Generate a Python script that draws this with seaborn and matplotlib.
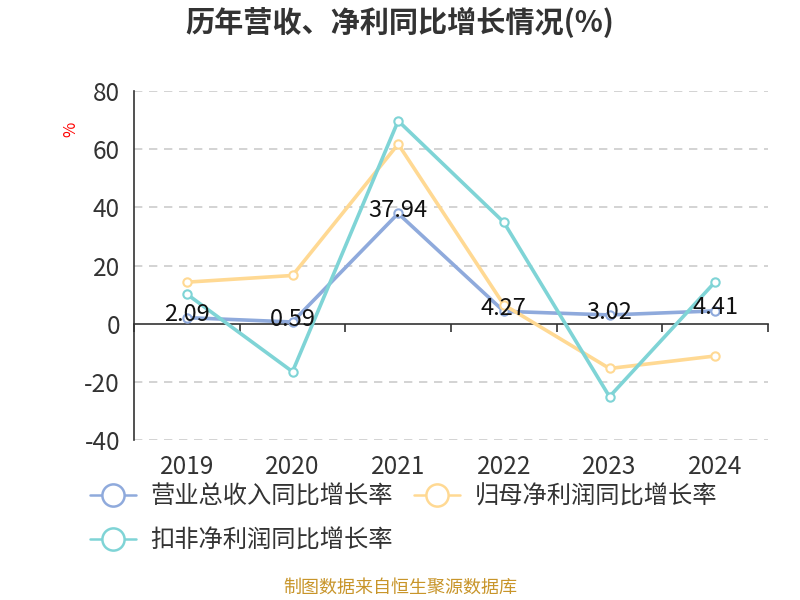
import matplotlib
matplotlib.use("Agg")
import pandas as pd
import seaborn as sns
import matplotlib.pyplot as plt
from matplotlib.lines import Line2D

# -------------------------
# Data
# -------------------------
years = ["2019", "2020", "2021", "2022", "2023", "2024"]
revenue_growth = [2.09, 0.59, 37.94, 4.27, 3.02, 4.41]
net_profit_growth = [14.3, 16.6, 61.8, 6.5, -15.4, -11.1]
deducted_profit_growth = [10.2, -16.5, 69.8, 34.9, -25.1, 14.4]

series_names = ["营业总收入同比增长率", "归母净利润同比增长率", "扣非净利润同比增长率"]
colors = ["#8FAADC", "#FFD993", "#7FD4D6"]

df = pd.DataFrame({
    "year": years * 3,
    "value": revenue_growth + net_profit_growth + deducted_profit_growth,
    "series": [series_names[0]] * 6 + [series_names[1]] * 6 + [series_names[2]] * 6,
})

sns.set_style("white")
plt.rcParams["font.family"] = ["Noto Sans CJK SC", "DejaVu Sans"]
plt.rcParams["axes.unicode_minus"] = False

fig = plt.figure(figsize=(8, 6), dpi=100)
ax = fig.add_axes([0.1675, 0.2667, 0.7925, 0.5813])

# -------------------------
# Lines
# -------------------------
for name, color in zip(series_names, colors):
    sub = df[df["series"] == name]
    sns.lineplot(
        data=sub, x="year", y="value", ax=ax, color=color, linewidth=2.6,
        marker="o", markersize=6, markerfacecolor="white",
        markeredgecolor=color, markeredgewidth=1.5, sort=False, zorder=3,
    )

# data labels for revenue growth
for i, v in enumerate(revenue_growth):
    ax.text(i, v + 1.0, f"{v:.2f}", ha="center", va="center",
            fontsize=17, color="#111111", zorder=5)

# -------------------------
# Axes styling
# -------------------------
ax.set_xlim(-0.5, 5.5)
ax.set_ylim(-40, 80)
ax.set_yticks(range(-40, 81, 20))
ax.set_xlabel("")
ax.set_ylabel("")

for y in range(-40, 81, 20):
    if y != 0:
        ax.axhline(y, color="#cccccc", linewidth=1.2, linestyle=(0, (5, 4)), zorder=1)

for s in ["top", "right", "bottom"]:
    ax.spines[s].set_visible(False)
ax.spines["left"].set_color("#333333")
ax.spines["left"].set_linewidth(1.2)

ax.tick_params(axis="y", length=6, width=1.2, color="#333333",
               labelsize=17.5, labelcolor="#333333", pad=4)
ax.tick_params(axis="x", length=0, labelsize=17.5, labelcolor="#333333", pad=10)

# zero axis line with ticks between categories
sec = ax.secondary_xaxis(40 / 120)
sec.set_xticks([i - 0.5 for i in range(7)])
sec.set_xticklabels([])
sec.tick_params(axis="x", direction="out", length=6, width=1.2, color="#333333")
sec.spines["bottom"].set_color("#333333")
sec.spines["bottom"].set_linewidth(1.2)

ax.text(-0.1, 0.89, "%", transform=ax.transAxes, rotation=90,
        ha="center", va="center", fontsize=12, color="red")

# -------------------------
# Legend
# -------------------------
handles = [
    Line2D([0], [0], color=c, linewidth=1.8, marker="o", markersize=16,
           markerfacecolor="white", markeredgecolor=c, markeredgewidth=1.8)
    for c in colors
]
order = [0, 2, 1]
fig.legend([handles[i] for i in order], [series_names[i] for i in order],
           loc="upper left", bbox_to_anchor=(0.097, 0.215), ncol=2,
           frameon=False, fontsize=17.5, handlelength=1.9, handletextpad=0.6,
           columnspacing=0.85, labelspacing=0.75, borderpad=0,
           labelcolor="#333333")

# -------------------------
# Title & footer
# -------------------------
fig.text(0.5, 0.962, "历年营收、净利同比增长情况(%)", ha="center", va="center",
         fontsize=21, fontweight="bold", color="#333333")
fig.text(0.5, 0.02, "制图数据来自恒生聚源数据库", ha="center", va="center",
         fontsize=13, color="#C8952A")

fig.savefig("out.png", dpi=100)
